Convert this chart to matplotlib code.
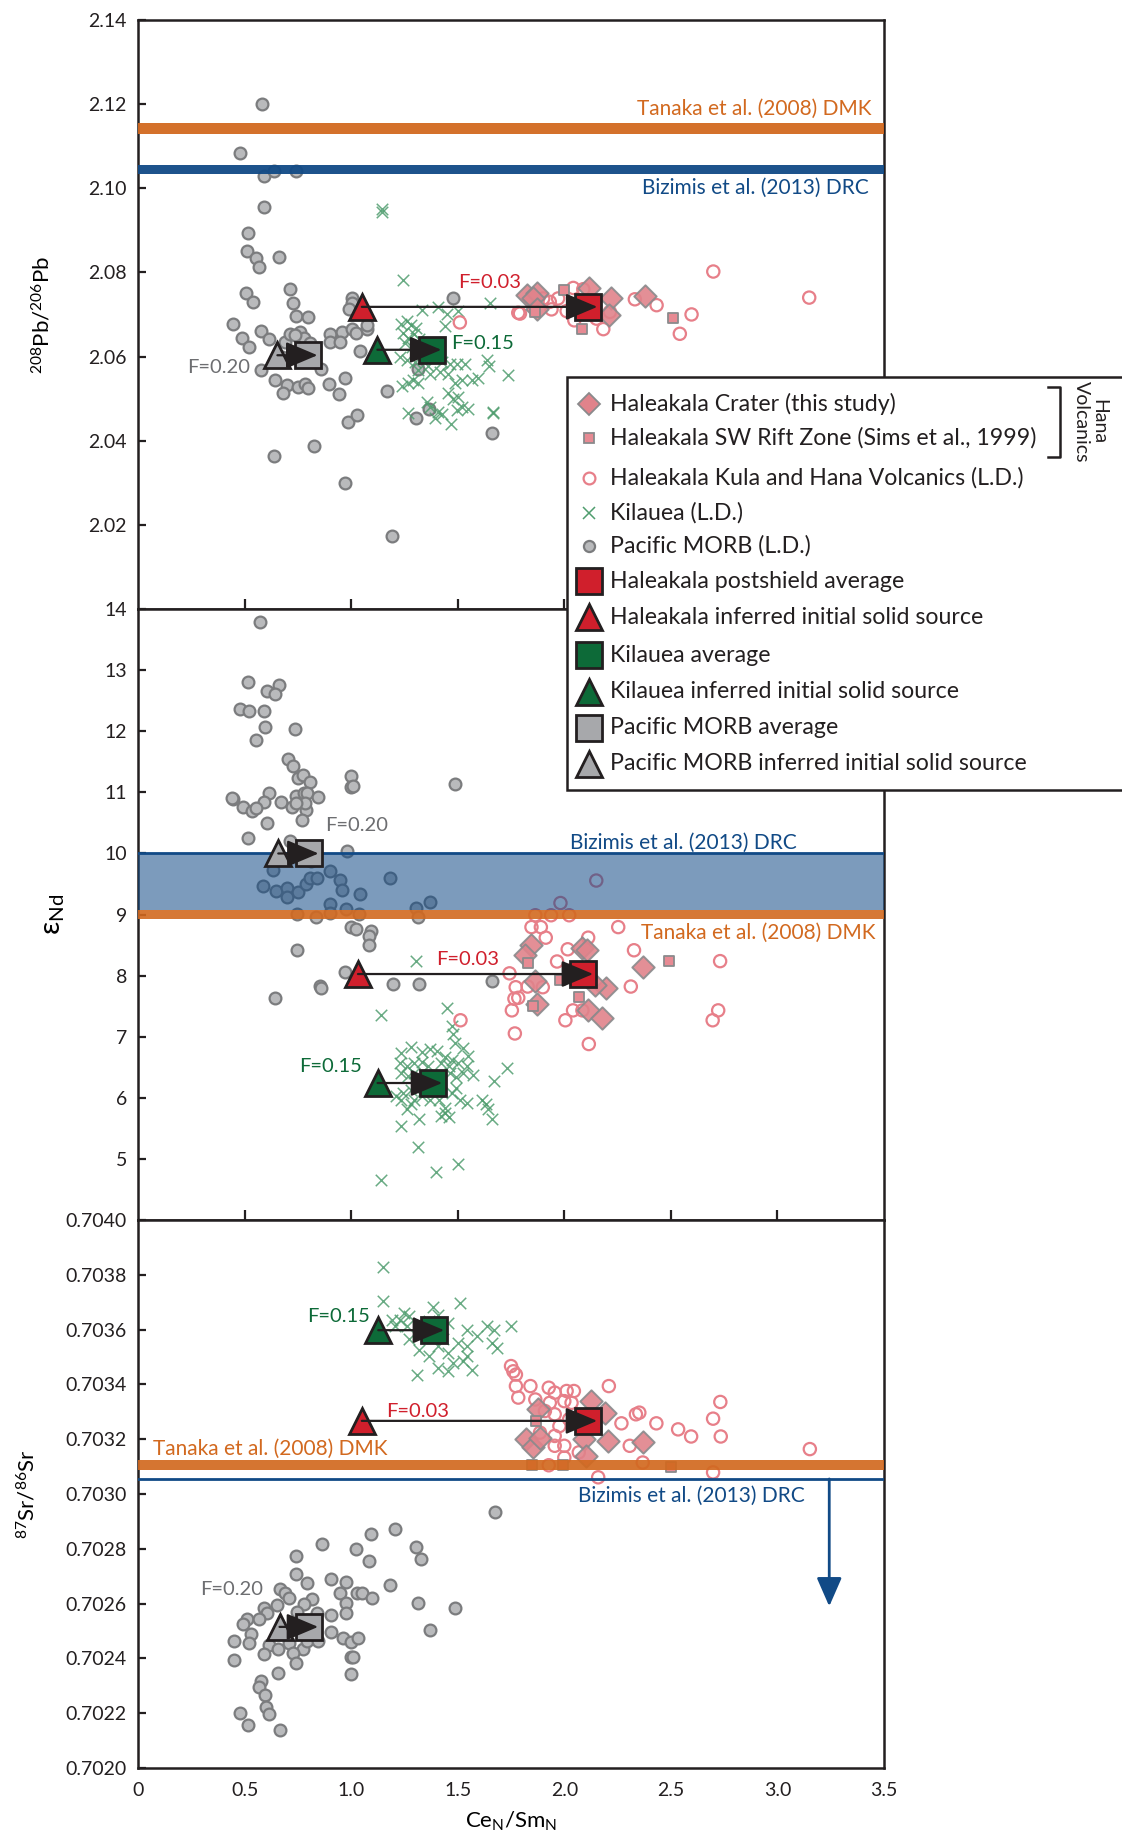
import matplotlib
matplotlib.use("Agg")
import matplotlib.pyplot as plt
from matplotlib.lines import Line2D
from matplotlib.patches import Rectangle

plt.rcParams['font.family'] = ['Lato', 'DejaVu Sans']
plt.rcParams['mathtext.fontset'] = 'custom'
plt.rcParams['mathtext.rm'] = 'Lato'
plt.rcParams['mathtext.it'] = 'Lato:italic'
plt.rcParams['text.color'] = '#231f20'

# ---------------- data: top panel (208Pb/206Pb) ----------------
morb_pb_x = [0.582, 0.477, 0.590, 0.640, 0.741, 0.591, 0.515, 0.513, 0.552, 0.568,
             0.663, 0.505, 0.540, 0.715, 0.727, 0.741, 0.799, 0.445, 0.490, 0.523,
             0.577, 0.613, 0.691, 0.713, 0.758, 0.780, 0.808, 0.899, 0.959, 1.003,
             1.022, 1.075, 1.076, 0.902, 0.950, 1.003, 1.003, 0.988, 1.041, 0.579,
             0.644, 0.699, 0.679, 0.749, 0.785, 0.797, 0.860, 0.895, 0.942, 0.969,
             0.986, 1.028, 0.824, 0.638, 0.969, 1.190, 1.167, 1.315, 1.367, 1.304,
             1.479, 1.660, 0.738, 0.675]
morb_pb_y = [2.1200, 2.1084, 2.1028, 2.1041, 2.1041, 2.0955, 2.0893, 2.0850, 2.0833, 2.0813,
             2.0837, 2.0751, 2.0729, 2.0760, 2.0726, 2.0697, 2.0695, 2.0677, 2.0644, 2.0623,
             2.0660, 2.0642, 2.0635, 2.0654, 2.0658, 2.0645, 2.0633, 2.0654, 2.0658, 2.0665,
             2.0656, 2.0666, 2.0675, 2.0634, 2.0634, 2.0738, 2.0727, 2.0712, 2.0614, 2.0567,
             2.0543, 2.0532, 2.0514, 2.0528, 2.0534, 2.0525, 2.0570, 2.0534, 2.0510, 2.0550,
             2.0445, 2.0461, 2.0387, 2.0364, 2.0300, 2.0174, 2.0517, 2.0570, 2.0476, 2.0454,
             2.0740, 2.0418, 2.0650, 2.0600]

kil_pb_x = [1.144, 1.144, 1.245, 1.651, 1.331, 1.406, 1.448, 1.502, 1.440, 1.234,
            1.261, 1.281, 1.303, 1.245, 1.268, 1.296, 1.318, 1.253, 1.284, 1.328,
            1.359, 1.231, 1.262, 1.300, 1.362, 1.424, 1.463, 1.495, 1.534, 1.635,
            1.646, 1.736, 1.315, 1.370, 1.417, 1.456, 1.487, 1.518, 1.565, 1.596,
            1.237, 1.268, 1.292, 1.315, 1.456, 1.479, 1.502, 1.518, 1.549, 1.354,
            1.370, 1.409, 1.393, 1.424, 1.468, 1.495, 1.268, 1.666, 1.666]
kil_pb_y = [2.0951, 2.0944, 2.0783, 2.0727, 2.0711, 2.0718, 2.0700, 2.0707, 2.0673, 2.0677,
            2.0684, 2.0674, 2.0668, 2.0656, 2.0645, 2.0653, 2.0641, 2.0632, 2.0622, 2.0622,
            2.0611, 2.0600, 2.0592, 2.0586, 2.0577, 2.0586, 2.0581, 2.0583, 2.0583, 2.0591,
            2.0577, 2.0556, 2.0568, 2.0559, 2.0563, 2.0559, 2.0538, 2.0545, 2.0545, 2.0549,
            2.0531, 2.0536, 2.0543, 2.0536, 2.0513, 2.0499, 2.0504, 2.0481, 2.0476, 2.0492,
            2.0481, 2.0467, 2.0454, 2.0463, 2.0440, 2.0472, 2.0465, 2.0467, 2.0465]

kula_pb_x = [2.699, 3.149, 1.510, 1.784, 1.932, 1.971, 2.042, 2.089, 1.940, 2.011,
             2.047, 2.183, 2.214, 2.331, 2.433, 2.597, 2.542, 1.792, 2.151, 1.901]
kula_pb_y = [2.0802, 2.0740, 2.0681, 2.0704, 2.0730, 2.0738, 2.0763, 2.0760, 2.0712, 2.0708,
             2.0686, 2.0665, 2.0706, 2.0736, 2.0722, 2.0700, 2.0654, 2.0702, 2.0690, 2.0738]

crater_pb_x = [1.826, 1.873, 1.854, 1.873, 2.117, 2.217, 2.208, 2.378]
crater_pb_y = [2.0746, 2.0752, 2.0738, 2.0712, 2.0763, 2.0738, 2.0698, 2.0744]

rift_pb_x = [1.998, 1.862, 2.081, 2.508]
rift_pb_y = [2.0758, 2.0706, 2.0666, 2.0692]

# averages / inferred sources: Haleakala, Kilauea, MORB
avg_pb_x = [2.110, 1.378, 0.797]
avg_pb_y = [2.0718, 2.0616, 2.0603]
src_pb_x = [1.050, 1.123, 0.654]
src_pb_y = [2.0718, 2.0616, 2.0603]

# ---------------- data: middle panel (eps Nd) ----------------
morb_nd_x = [0.572, 0.517, 0.604, 0.661, 0.644, 0.477, 0.521, 0.589, 0.596, 0.736,
             0.553, 0.702, 0.727, 0.749, 0.774, 0.807, 0.740, 0.777, 0.793, 0.846,
             0.614, 0.591, 0.669, 0.721, 0.790, 0.783, 0.743, 0.447, 0.439, 0.494,
             0.533, 0.555, 0.605, 0.771, 0.517, 0.713, 1.001, 0.999, 1.010, 1.487,
             0.982, 0.811, 0.632, 0.588, 0.646, 0.697, 0.700, 0.749, 0.788, 0.807,
             0.841, 0.899, 0.947, 0.958, 1.040, 1.182, 0.899, 0.977, 1.038, 1.302,
             1.370, 1.315, 0.747, 0.833, 0.900, 0.999, 1.024, 1.091, 1.082, 1.085,
             0.747, 0.972, 0.855, 0.860, 1.196, 1.320, 1.659, 0.644]
morb_nd_y = [13.785, 12.810, 12.663, 12.761, 12.614, 12.364, 12.326, 12.326, 12.070, 12.042,
             11.857, 11.552, 11.427, 11.236, 11.280, 11.166, 10.937, 10.991, 10.997, 10.926,
             10.986, 10.844, 10.844, 10.757, 10.708, 10.828, 10.828, 10.899, 10.910, 10.757,
             10.692, 10.746, 10.507, 10.556, 10.256, 10.212, 11.275, 11.089, 11.111, 11.138,
             10.038, 9.875, 9.722, 9.466, 9.385, 9.439, 9.286, 9.374, 9.493, 9.602,
             9.591, 9.711, 9.559, 9.406, 9.330, 9.591, 9.178, 9.085, 9.014, 9.112,
             9.205, 8.960, 9.014, 8.960, 9.031, 8.796, 8.758, 8.731, 8.649, 8.497,
             8.420, 8.061, 7.832, 7.805, 7.870, 7.870, 7.914, 7.642]

kil_nd_x = [1.306, 1.138, 1.448, 1.471, 1.478, 1.488, 1.527, 1.549, 1.235, 1.280,
            1.333, 1.368, 1.404, 1.439, 1.474, 1.227, 1.262, 1.297, 1.333, 1.359,
            1.421, 1.457, 1.501, 1.542, 1.235, 1.265, 1.297, 1.324, 1.359, 1.465,
            1.492, 1.527, 1.572, 1.731, 1.669, 1.209, 1.244, 1.280, 1.297, 1.333,
            1.280, 1.262, 1.235, 1.368, 1.412, 1.439, 1.474, 1.492, 1.510, 1.545,
            1.616, 1.634, 1.642, 1.660, 1.439, 1.421, 1.457, 1.235, 1.319, 1.312,
            1.398, 1.501, 1.138]
kil_nd_y = [8.243, 7.351, 7.470, 7.173, 7.043, 6.892, 6.811, 6.686, 6.730, 6.838,
            6.757, 6.795, 6.773, 6.676, 6.622, 6.578, 6.514, 6.568, 6.595, 6.514,
            6.578, 6.514, 6.568, 6.514, 6.405, 6.351, 6.405, 6.324, 6.270, 6.405,
            6.341, 6.405, 6.378, 6.486, 6.270, 6.027, 6.081, 6.135, 5.973, 6.027,
            5.892, 5.811, 5.973, 5.973, 5.973, 5.838, 6.081, 6.162, 5.973, 5.919,
            5.973, 5.892, 5.811, 5.649, 5.757, 5.703, 5.692, 5.541, 5.649, 5.189,
            4.784, 4.919, 4.649]

kula_nd_x = [2.150, 1.982, 1.864, 1.938, 2.023, 1.846, 1.890, 1.913, 2.253, 2.112,
             2.016, 1.966, 2.327, 2.731, 1.743, 1.772, 1.828, 1.899, 1.766, 1.784,
             1.754, 2.023, 2.050, 2.312, 2.041, 2.005, 2.085, 1.513, 1.768, 2.115,
             2.722, 2.696]
kula_nd_y = [9.557, 9.189, 8.989, 8.989, 8.989, 8.795, 8.795, 8.622, 8.795, 8.622,
             8.432, 8.232, 8.416, 8.238, 8.038, 7.811, 7.822, 7.811, 7.622, 7.638,
             7.432, 8.081, 8.027, 7.822, 7.432, 7.270, 7.432, 7.270, 7.054, 6.881,
             7.432, 7.270]

crater_nd_x = [1.846, 1.814, 1.864, 1.874, 2.085, 2.108, 2.196, 2.112, 2.175, 2.368, 2.143]
crater_nd_y = [8.503, 8.341, 7.908, 7.541, 8.459, 8.416, 7.800, 7.432, 7.314, 8.135, 7.854]

rift_nd_x = [1.828, 1.982, 2.067, 1.855, 2.492]
rift_nd_y = [8.200, 7.935, 7.659, 7.497, 8.238]

avg_nd_x = [2.090, 1.382, 0.802]
avg_nd_y = [8.027, 6.243, 10.0]
src_nd_x = [1.032, 1.124, 0.658]
src_nd_y = [8.027, 6.243, 10.0]

# ---------------- data: bottom panel (87Sr/86Sr) ----------------
morb_sr_x = [1.673, 1.205, 1.095, 0.864, 1.023, 1.302, 1.327, 1.084, 0.743, 0.743,
             0.905, 0.977, 1.182, 0.795, 0.666, 0.689, 0.709, 0.818, 0.950, 1.027,
             1.052, 1.098, 0.777, 0.591, 0.652, 0.607, 0.511, 0.568, 0.491, 0.532,
             0.977, 0.977, 0.905, 1.314, 1.486, 1.370, 0.745, 0.841, 0.905, 0.964,
             1.000, 1.030, 0.452, 0.520, 0.614, 0.659, 0.709, 0.773, 0.727, 0.591,
             0.450, 0.739, 1.000, 1.009, 0.655, 1.000, 0.577, 0.566, 0.595, 0.602,
             0.616, 0.477, 0.518, 0.668, 0.795, 0.845]
morb_sr_y = [0.702935, 0.702873, 0.702855, 0.702819, 0.702800, 0.702807, 0.702764, 0.702754,
             0.702773, 0.702707, 0.702691, 0.702679, 0.702669, 0.702674, 0.702652, 0.702640,
             0.702622, 0.702618, 0.702640, 0.702640, 0.702640, 0.702622, 0.702598, 0.702585,
             0.702594, 0.702567, 0.702543, 0.702543, 0.702525, 0.702488, 0.702601, 0.702564,
             0.702558, 0.702601, 0.702583, 0.702504, 0.702570, 0.702567, 0.702495, 0.702473,
             0.702461, 0.702475, 0.702464, 0.702455, 0.702448, 0.702434, 0.702456, 0.702434,
             0.702419, 0.702416, 0.702394, 0.702385, 0.702404, 0.702404, 0.702345, 0.702344,
             0.702318, 0.702295, 0.702267, 0.702221, 0.702198, 0.702201, 0.702158, 0.702137,
             0.702464, 0.702465]

kil_sr_x = [1.148, 1.148, 1.511, 1.386, 1.250, 1.273, 1.227, 1.318, 1.261, 1.364,
            1.409, 1.455, 1.545, 1.591, 1.636, 1.670, 1.750, 1.659, 1.682, 1.545,
            1.500, 1.432, 1.364, 1.318, 1.409, 1.455, 1.364, 1.545, 1.568, 1.455,
            1.409, 1.307, 1.523, 1.477, 1.318, 1.273, 1.205, 1.193]
kil_sr_y = [0.703828, 0.703703, 0.703697, 0.703682, 0.703661, 0.703648, 0.703636, 0.703624,
            0.703612, 0.703630, 0.703655, 0.703624, 0.703600, 0.703576, 0.703612, 0.703600,
            0.703615, 0.703552, 0.703533, 0.703539, 0.703552, 0.703564, 0.703576, 0.703588,
            0.703539, 0.703515, 0.703503, 0.703503, 0.703452, 0.703448, 0.703461, 0.703436,
            0.703485, 0.703479, 0.703527, 0.703564, 0.703612, 0.703636]

kula_sr_x = [1.750, 1.761, 1.773, 1.773, 1.784, 1.841, 1.864, 1.927, 1.955, 2.011,
             2.045, 1.932, 2.000, 2.034, 2.209, 1.909, 1.955, 1.977, 2.023, 1.886,
             1.955, 2.000, 1.955, 2.268, 2.336, 2.352, 2.432, 2.534, 2.595, 2.698,
             2.732, 2.734, 2.307, 2.368, 2.698, 3.152, 2.159, 1.927, 2.000, 2.068]
kula_sr_y = [0.703467, 0.703448, 0.703436, 0.703394, 0.703352, 0.703394, 0.703345, 0.703388,
             0.703370, 0.703376, 0.703376, 0.703333, 0.703339, 0.703333, 0.703394, 0.703303,
             0.703291, 0.703248, 0.703273, 0.703224, 0.703212, 0.703176, 0.703176, 0.703258,
             0.703291, 0.703297, 0.703258, 0.703236, 0.703210, 0.703275, 0.703336, 0.703210,
             0.703176, 0.703115, 0.703079, 0.703164, 0.703061, 0.703105, 0.703133, 0.703152]

crater_sr_x = [1.875, 1.818, 1.852, 1.886, 2.091, 2.102, 2.125, 2.193, 2.205, 2.368]
crater_sr_y = [0.703309, 0.703200, 0.703170, 0.703206, 0.703200, 0.703139, 0.703339,
               0.703297, 0.703194, 0.703190]

rift_sr_x = [1.848, 1.995, 2.500, 1.868]
rift_sr_y = [0.703105, 0.703105, 0.703097, 0.703267]

avg_sr_x = [2.109, 1.391, 0.800]
avg_sr_y = [0.703267, 0.703598, 0.702515]
src_sr_x = [1.050, 1.127, 0.664]
src_sr_y = [0.703267, 0.703598, 0.702515]

f_labels = ["F=0.03", "F=0.15", "F=0.20"]

# ---------------- styles ----------------
ORANGE = '#d2691f'
BLUE = '#114a86'
RED = '#d01f2c'
GREEN = '#0d6a38'
GREY = '#a7a8ab'
INK = '#231f20'
avg_colors = [RED, GREEN, GREY]
f_colors = [RED, GREEN, '#6d6e71']

fig = plt.figure(figsize=(11.22, 18.48), dpi=100)
ax_pb = fig.add_axes([0.1230, 0.6705, 0.6649, 0.3187])
ax_nd = fig.add_axes([0.1230, 0.3398, 0.6649, 0.3306])
ax_sr = fig.add_axes([0.1230, 0.0433, 0.6649, 0.2965])


def draw_points(ax, mx, my, kx, ky, hx, hy, cx, cy, rx, ry):
    ax.scatter(mx, my, s=72, c='#b9babc', edgecolors='#7b7c7e', linewidths=1.6, zorder=2)
    ax.scatter(kx, ky, s=68, marker='x', c='#4f9d6e', linewidths=1.1, alpha=0.85, zorder=3)
    ax.scatter(hx, hy, s=78, facecolors='none', edgecolors='#e77f89', linewidths=1.6, zorder=4)
    ax.scatter(cx, cy, s=130, marker='D', c='#e0838b', edgecolors='#8a8a8c',
               linewidths=1.4, alpha=0.9, zorder=5)
    ax.scatter(rx, ry, s=55, marker='s', c='#e78a93', edgecolors='#8a8a8c',
               linewidths=1.3, zorder=5)


def draw_models(ax, sx, sy, ax_x, ay, lab_pos):
    for i in range(3):
        ax.plot(sx[i], sy[i], marker='^', ms=19, mfc=avg_colors[i], mec=INK,
                mew=2, ls='none', zorder=8)
        ax.plot(ax_x[i], ay[i], marker='s', ms=19, mfc=avg_colors[i], mec=INK,
                mew=2, ls='none', zorder=8)
        ax.annotate('', xy=(ax_x[i] + 0.045, ay[i]), xytext=(sx[i], sy[i]),
                    arrowprops=dict(arrowstyle='-|>,head_length=0.9,head_width=0.38',
                                    color=INK, lw=1.6, mutation_scale=22,
                                    shrinkA=0, shrinkB=0), zorder=9)
        ax.text(lab_pos[i][0], lab_pos[i][1], f_labels[i], color=f_colors[i],
                fontsize=14.5, ha='left', va='center', zorder=10)


def style_axis(ax, xticks_visible):
    ax.set_xlim(0, 3.5)
    for sp in ax.spines.values():
        sp.set_linewidth(1.8)
        sp.set_color(INK)
    ax.set_xticks([0.5, 1.0, 1.5, 2.0, 2.5, 3.0])
    ax.tick_params(axis='y', direction='in', length=6, width=1.6, labelsize=14,
                   colors=INK, pad=8)
    ax.tick_params(axis='x', direction='in', length=7, width=1.6, labelsize=14,
                   colors=INK, pad=10, labelbottom=xticks_visible)


# ---- top panel ----
draw_points(ax_pb, morb_pb_x, morb_pb_y, kil_pb_x, kil_pb_y, kula_pb_x, kula_pb_y,
            crater_pb_x, crater_pb_y, rift_pb_x, rift_pb_y)
ax_pb.axhspan(2.1129, 2.1154, color=ORANGE, alpha=0.95, lw=0, zorder=6)
ax_pb.axhspan(2.1033, 2.1056, color=BLUE, alpha=0.95, lw=0, zorder=6)
ax_pb.text(3.44, 2.1189, "Tanaka et al. (2008) DMK", color=ORANGE, fontsize=15,
           ha='right', va='center')
ax_pb.text(3.43, 2.1000, "Bizimis et al. (2013) DRC", color=BLUE, fontsize=15,
           ha='right', va='center')
draw_models(ax_pb, src_pb_x, src_pb_y, avg_pb_x, avg_pb_y,
            [(1.50, 2.0777), (1.47, 2.0632), (0.23, 2.0575)])
style_axis(ax_pb, False)
ax_pb.set_ylim(2.00, 2.14)
ax_pb.set_yticks([2.02, 2.04, 2.06, 2.08, 2.10, 2.12, 2.14])
ax_pb.set_yticklabels(['2.02', '2.04', '2.06', '2.08', '2.10', '2.12', '2.14'])
ax_pb.set_ylabel(r'$\mathregular{^{208}Pb/^{206}Pb}$', fontsize=16, labelpad=14)

# ---- middle panel ----
draw_points(ax_nd, morb_nd_x, morb_nd_y, kil_nd_x, kil_nd_y, kula_nd_x, kula_nd_y,
            crater_nd_x, crater_nd_y, rift_nd_x, rift_nd_y)
ax_nd.axhspan(9.08, 10.0, color=BLUE, alpha=0.55, lw=0, zorder=6)
ax_nd.axhline(10.0, color=BLUE, lw=2, zorder=6)
ax_nd.axhspan(8.92, 9.08, color=ORANGE, alpha=0.9, lw=0, zorder=6)
ax_nd.text(2.027, 10.17, "Bizimis et al. (2013) DRC", color=BLUE, fontsize=15,
           ha='left', va='center')
ax_nd.text(3.46, 8.70, "Tanaka et al. (2008) DMK", color=ORANGE, fontsize=15,
           ha='right', va='center')
draw_models(ax_nd, src_nd_x, src_nd_y, avg_nd_x, avg_nd_y,
            [(1.40, 8.27), (0.758, 6.52), (0.877, 10.46)])
style_axis(ax_nd, False)
ax_nd.set_ylim(4, 14)
ax_nd.set_yticks(range(5, 15))
ax_nd.set_ylabel(r'ε$_\mathregular{Nd}$', fontsize=21, labelpad=22)

# ---- bottom panel ----
draw_points(ax_sr, morb_sr_x, morb_sr_y, kil_sr_x, kil_sr_y, kula_sr_x, kula_sr_y,
            crater_sr_x, crater_sr_y, rift_sr_x, rift_sr_y)
ax_sr.axhspan(0.703088, 0.703125, color=ORANGE, alpha=0.92, lw=0, zorder=6)
ax_sr.axhline(0.703055, color=BLUE, lw=2, zorder=6)
ax_sr.annotate('', xy=(3.243, 0.70259), xytext=(3.243, 0.703055),
               arrowprops=dict(arrowstyle='-|>,head_length=0.8,head_width=0.35',
                               color=BLUE, lw=2, mutation_scale=22,
                               shrinkA=0, shrinkB=0), zorder=6)
ax_sr.text(0.068, 0.703166, "Tanaka et al. (2008) DMK", color=ORANGE, fontsize=15,
           ha='left', va='center')
ax_sr.text(3.13, 0.702994, "Bizimis et al. (2013) DRC", color=BLUE, fontsize=15,
           ha='right', va='center')
draw_models(ax_sr, src_sr_x, src_sr_y, avg_sr_x, avg_sr_y,
            [(1.166, 0.703303), (0.795, 0.703648), (0.291, 0.702652)])
style_axis(ax_sr, True)
ax_sr.set_ylim(0.7020, 0.7040)
sr_ticks = [0.7020 + 0.0002 * i for i in range(11)]
ax_sr.set_yticks(sr_ticks)
ax_sr.set_yticklabels(['%.4f' % t for t in sr_ticks])
ax_sr.set_xticks([0, 0.5, 1.0, 1.5, 2.0, 2.5, 3.0, 3.5])
ax_sr.set_xticklabels(['0', '0.5', '1.0', '1.5', '2.0', '2.5', '3.0', '3.5'])
ax_sr.tick_params(axis='x', length=0)
ax_sr.set_ylabel(r'$\mathregular{^{87}Sr/^{86}Sr}$', fontsize=16, labelpad=10)
ax_sr.set_xlabel(r'Ce$_\mathregular{N}$/Sm$_\mathregular{N}$', fontsize=16, labelpad=8)

# align y labels like the original
ax_pb.yaxis.set_label_coords(-0.112, 0.5)
ax_nd.yaxis.set_label_coords(-0.095, 0.5)
ax_sr.yaxis.set_label_coords(-0.133, 0.5)

# ---------------- legend (drawn as a box on the figure) ----------------
fig.add_artist(Rectangle((0.5053, 0.5725), 0.52, 0.2235, transform=fig.transFigure,
                         facecolor='white', edgecolor=INK, lw=1.8, zorder=20))

leg_labels = ["Haleakala Crater (this study)",
              "Haleakala SW Rift Zone (Sims et al., 1999)",
              "Haleakala Kula and Hana Volcanics (L.D.)",
              "Kilauea (L.D.)",
              "Pacific MORB (L.D.)",
              "Haleakala postshield average",
              "Haleakala inferred initial solid source",
              "Kilauea average",
              "Kilauea inferred initial solid source",
              "Pacific MORB average",
              "Pacific MORB inferred initial solid source"]
leg_rows_px = [404, 438, 478, 513, 546, 581, 617, 655, 692, 728, 764]
leg_styles = [dict(marker='D', ms=11, mfc='#e0838b', mec='#8a8a8c', mew=1.3),
              dict(marker='s', ms=7.5, mfc='#e78a93', mec='#8a8a8c', mew=1.3),
              dict(marker='o', ms=8.5, mfc='none', mec='#e77f89', mew=1.6),
              dict(marker='x', ms=8.5, mfc='none', mec='#4f9d6e', mew=1.1),
              dict(marker='o', ms=8, mfc='#b9babc', mec='#7b7c7e', mew=1.6),
              dict(marker='s', ms=19, mfc=RED, mec=INK, mew=2),
              dict(marker='^', ms=19, mfc=RED, mec=INK, mew=2),
              dict(marker='s', ms=19, mfc=GREEN, mec=INK, mew=2),
              dict(marker='^', ms=19, mfc=GREEN, mec=INK, mew=2),
              dict(marker='s', ms=19, mfc=GREY, mec=INK, mew=2),
              dict(marker='^', ms=19, mfc=GREY, mec=INK, mew=2)]

for lab, row, st in zip(leg_labels, leg_rows_px, leg_styles):
    yf = 1 - row / 1848
    fig.add_artist(Line2D([0.5250], [yf], transform=fig.transFigure, ls='none',
                          zorder=21, **st))
    fig.text(0.5437, yf, lab, fontsize=16.7, ha='left', va='center', zorder=22)

# bracket for Hana Volcanics
bx = 1060 / 1122
y1 = 1 - 387 / 1848
y2 = 1 - 457 / 1848
fig.add_artist(Line2D([bx - 0.011, bx, bx, bx - 0.011], [y1, y1, y2, y2],
                      transform=fig.transFigure, color=INK, lw=1.8, zorder=21))
fig.text(1090 / 1122, (y1 + y2) / 2, "Hana\nVolcanics", rotation=-90, fontsize=14,
         ha='center', va='center', multialignment='center', linespacing=1.0, zorder=22)

fig.savefig("out.png", dpi=100)
